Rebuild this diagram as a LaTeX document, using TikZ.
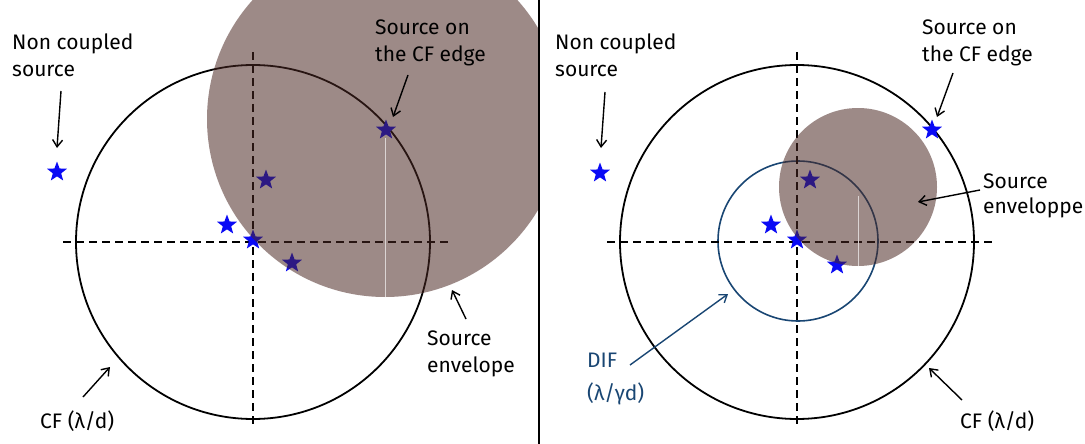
\documentclass[tikz,border=0pt]{standalone}
\usepackage{fontspec}
\setmainfont{Fira Sans}
\usetikzlibrary{shapes.geometric,arrows.meta}
\definecolor{starblue}{RGB}{10,10,245}
\definecolor{difblue}{RGB}{25,70,115}
\definecolor{envbrown}{RGB}{74,39,35}
\begin{document}
\begin{tikzpicture}[x=1pt,y=-1pt,
  src/.style={star,star points=5,star point ratio=2.4,fill=starblue,draw=none,minimum size=21pt,inner sep=0pt},
  cfring/.style={circle,draw=black,line width=1.8pt,inner sep=0pt},
  difring/.style={circle,draw=difblue,line width=1.6pt,inner sep=0pt},
  axis/.style={draw=black,line width=1.6pt,dash pattern=on 8pt off 5pt},
  env/.style={circle,fill=envbrown,fill opacity=0.54,draw=none,inner sep=0pt},
  faint/.style={draw=white!80!envbrown,line width=0.7pt},
  lbl/.style={font=\fontsize{21}{27}\selectfont,align=left,anchor=base west,inner sep=0pt},
  ptr/.style={draw=black,line width=1.4pt,-{Straight Barb[length=7pt,width=10pt]}},
]
\useasboundingbox (0,0) rectangle (1085,444);
\fill[white] (0,0) rectangle (1085,444);

% ---------- left panel ----------
\node[cfring,minimum size=354pt] (cfL) at (253,242) {};
\draw[axis] (63,242) -- (450,242);
\draw[axis] (253,52) -- (253,427);
\node[src] (sL1) at (57,172) {};
\node[src] (sL2) at (386,130) {};
\node[src] (sL3) at (266,180) {};
\node[src] (sL4) at (227,225) {};
\node[src] (sL5) at (253,240) {};
\node[src] (sL6) at (292,263) {};
\begin{scope}
  \clip (0,0) rectangle (538,444);
  \node[env,minimum size=356pt] (envL) at (385,119) {};
\end{scope}
\draw[faint] (385,138) -- (385,297);

% ---------- right panel ----------
\node[cfring,minimum size=354pt] (cfR) at (797,242) {};
\node[difring,minimum size=160pt] (difR) at (798,241) {};
\draw[axis] (607,242) -- (994,242);
\draw[axis] (797,52) -- (797,427);
\node[src] (sR1) at (600,173) {};
\node[src] (sR2) at (932,130) {};
\node[src] (sR3) at (810,180) {};
\node[src] (sR4) at (771,225) {};
\node[src] (sR5) at (797,240) {};
\node[src] (sR6) at (837,265) {};
\node[env,minimum size=158pt] (envR) at (858,187) {};
\draw[faint] (858,196) -- (858,266);

% divider
\draw[line width=1.5pt] (539,0) -- (539,444);

% ---------- labels (anchor = baseline of last line) ----------
\node[lbl] (ncL) at (12,77) {Non coupled\\source};
\node[lbl] (edgeL) at (375,62) {Source on\\the CF edge};
\node[lbl] (envlabL) at (427,372) {Source\\envelope};
\node[lbl] (cflabL) at (40,428) {CF (λ/d)};

\node[lbl] (ncR) at (555,77) {Non coupled\\source};
\node[lbl] (edgeR) at (922,62) {Source on\\the CF edge};
\node[lbl] (envlabR) at (983,213) {Source\\[-2pt]enveloppe};
\node[lbl,text=difblue] (diflab) at (587,400) {DIF\\[6pt](λ/γd)};
\node[lbl] (cflabR) at (960,428) {CF (λ/d)};

% ---------- pointers ----------
\coordinate (p1a) at (61,91);   \coordinate (p1b) at (57,148);
\coordinate (p2a) at (408,75);  \coordinate (p2b) at (393,117);
\coordinate (p3a) at (466,319); \coordinate (p3b) at (452,290);
\coordinate (p4a) at (83,397);  \coordinate (p4b) at (110,367);
\coordinate (p5a) at (605,92);  \coordinate (p5b) at (601,148);
\coordinate (p6a) at (953,73);  \coordinate (p6b) at (937,117);
\coordinate (p7a) at (980,190); \coordinate (p7b) at (918,202);
\coordinate (p8a) at (630,365); \coordinate (p8b) at (728,294);
\coordinate (p9a) at (962,400); \coordinate (p9b) at (929,368);
\draw[ptr] (p1a) -- (p1b);
\draw[ptr] (p2a) -- (p2b);
\draw[ptr] (p3a) -- (p3b);
\draw[ptr] (p4a) -- (p4b);
\draw[ptr] (p5a) -- (p5b);
\draw[ptr] (p6a) -- (p6b);
\draw[ptr] (p7a) -- (p7b);
\draw[ptr,draw=difblue] (p8a) -- (p8b);
\draw[ptr] (p9a) -- (p9b);
\end{tikzpicture}
\end{document}
